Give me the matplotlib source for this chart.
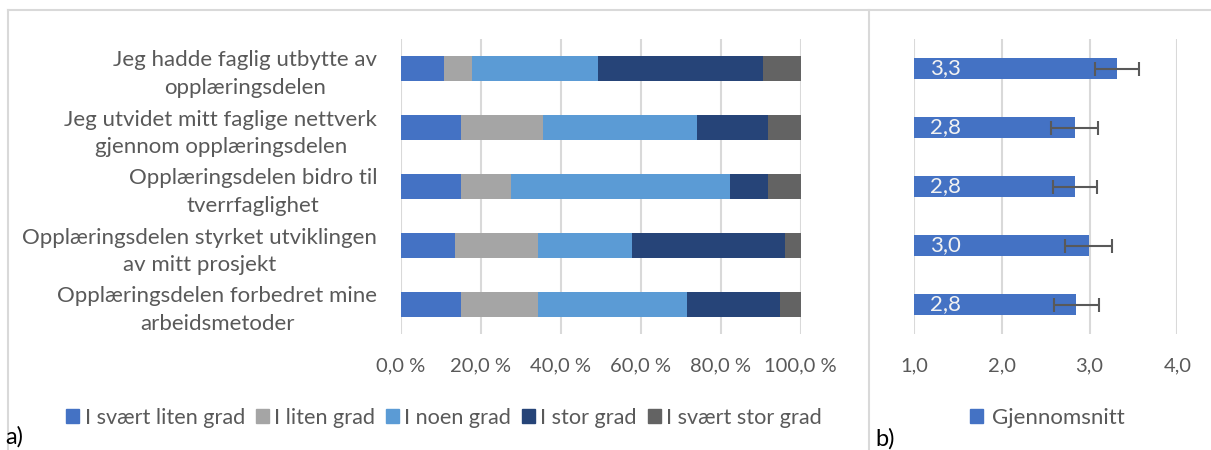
import numpy as np
import matplotlib.pyplot as plt
from matplotlib.lines import Line2D
from matplotlib.patches import Patch
from matplotlib.ticker import FuncFormatter
from matplotlib.transforms import offset_copy

plt.rcParams['font.family'] = ['Lato', 'DejaVu Sans']

# Data
statements = [
    "Jeg hadde faglig utbytte av\nopplæringsdelen",
    "Jeg utvidet mitt faglige nettverk\ngjennom opplæringsdelen",
    "Opplæringsdelen bidro til\ntverrfaglighet",
    "Opplæringsdelen styrket utviklingen\nav mitt prosjekt",
    "Opplæringsdelen forbedret mine\narbeidsmetoder",
]
levels = ["I svært liten grad", "I liten grad", "I noen grad", "I stor grad", "I svært stor grad"]
svaert_liten = [10.8, 15.0, 15.0, 13.6, 15.0]
liten = [6.9, 20.6, 12.5, 20.7, 19.3]
noen = [31.7, 38.5, 54.8, 23.5, 37.2]
stor = [41.2, 17.8, 9.6, 38.3, 23.2]
svaert_stor = [9.4, 8.1, 8.1, 3.9, 5.3]
means = [3.3, 2.8, 2.8, 3.0, 2.8]
mean_plot = [3.31, 2.83, 2.83, 2.99, 2.85]
errors = [0.25, 0.27, 0.25, 0.27, 0.26]
pct_ticks = [0, 20, 40, 60, 80, 100]
mean_ticks = [1, 2, 3, 4]

colors = ["#4472C4", "#A5A5A5", "#5B9BD5", "#264478", "#636363"]
txt = "#595959"
grid = "#D9D9D9"

W, H = 1211, 450
fig = plt.figure(figsize=(W / 100, H / 100), dpi=100)

def fx(px):
    return px / W

def fy(py):
    return 1 - py / H

# panel frames
for seg in [((8, 8), (10, 460)), ((8, 1211), (10, 10)), ((869, 869), (10, 460))]:
    fig.add_artist(Line2D([fx(v) for v in seg[0]], [fy(v) for v in seg[1]],
                          color=grid, lw=1.5, transform=fig.transFigure))

# left panel: stacked percentages
ax1 = fig.add_axes([fx(400.7), fy(334), fx(800.7) - fx(400.7), fy(39) - fy(334)])
y = np.arange(len(statements))
series = [svaert_liten, liten, noen, stor, svaert_stor]
left = np.zeros(len(statements))
for vals, c in zip(series, colors):
    ax1.barh(y, vals, left=left, height=0.41, color=c, zorder=3)
    left += np.array(vals)
ax1.set_xlim(0, 100)
ax1.set_ylim(len(statements) - 0.5, -0.5)
ax1.set_xticks(pct_ticks)
ax1.xaxis.set_major_formatter(FuncFormatter(lambda v, p: f"{v:.1f}".replace(".", ",") + " %"))
ax1.set_yticks(y)
ax1.set_yticklabels(statements, multialignment="center", fontsize=16, linespacing=1.45)
ax1.grid(axis="x", color=grid, lw=1.5, zorder=0)
for s in ax1.spines.values():
    s.set_visible(False)
ax1.tick_params(axis="both", length=0, colors=txt)
ax1.tick_params(axis="x", pad=17, labelsize=14.5)
ax1.tick_params(axis="y", pad=17)

fig.legend([Patch(color=c) for c in colors], levels, loc="center",
           bbox_to_anchor=(fx(444), fy(418)), ncol=5, frameon=False,
           fontsize=15.6, labelcolor=txt, handlelength=0.6, handleheight=0.6,
           handletextpad=0.25, columnspacing=0.5)

# right panel: means with error bars
ax2 = fig.add_axes([fx(914), fy(334), fx(1177.3) - fx(914), fy(39) - fy(334)])
ax2.barh(y, mean_plot, height=0.36, color="#4472C4", zorder=3)
ax2.errorbar(mean_plot, y, xerr=errors, fmt="none", ecolor="#595959",
             elinewidth=1.5, capsize=5, capthick=1.5, zorder=4)
lab_tr = offset_copy(ax2.transData, fig=fig, x=16, y=0, units="dots")
for yi, m in zip(y, means):
    ax2.text(1, yi, f"{m:.1f}".replace(".", ","), transform=lab_tr,
             ha="left", va="center", color="#F2F2F2", fontsize=16, zorder=5)
ax2.set_xlim(1, 4)
ax2.set_ylim(len(statements) - 0.5, -0.5)
ax2.set_xticks(mean_ticks)
ax2.xaxis.set_major_formatter(FuncFormatter(lambda v, p: f"{v:.1f}".replace(".", ",")))
ax2.set_yticks([])
ax2.grid(axis="x", color=grid, lw=1.5, zorder=0)
for s in ax2.spines.values():
    s.set_visible(False)
ax2.tick_params(axis="both", length=0, colors=txt)
ax2.tick_params(axis="x", pad=17, labelsize=14.5)

fig.legend([Patch(color="#4472C4")], ["Gjennomsnitt"], loc="center",
           bbox_to_anchor=(fx(1047), fy(418)), frameon=False,
           fontsize=16, labelcolor=txt, handlelength=0.6, handleheight=0.6,
           handletextpad=0.4)

fig.text(fx(5), fy(437), "a)", fontsize=17, color="black", ha="left", va="center")
fig.text(fx(875), fy(439), "b)", fontsize=17, color="black", ha="left", va="center")

fig.savefig("out.png", dpi=100)
